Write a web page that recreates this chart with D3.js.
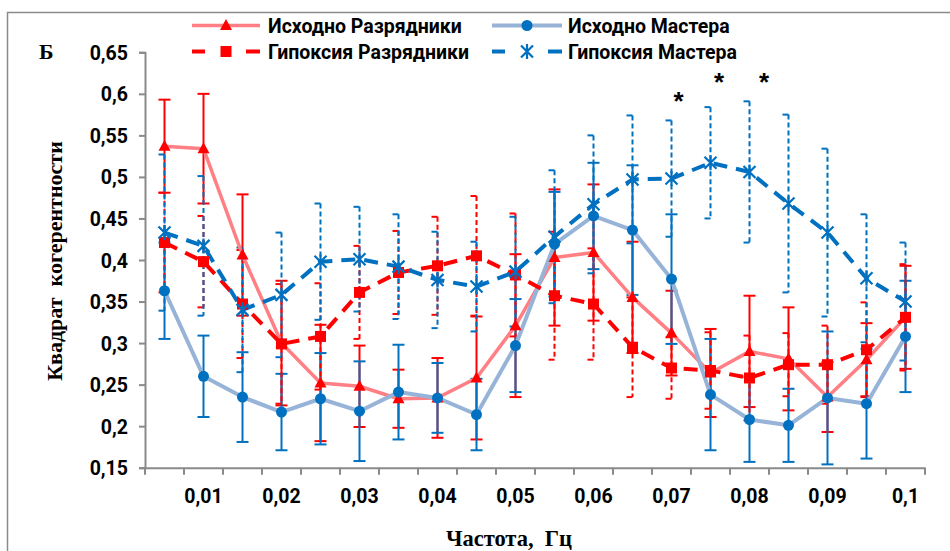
<!DOCTYPE html>
<html>
<head>
<meta charset="utf-8">
<script src="https://cdn.jsdelivr.net/npm/d3@7"></script>
<style>
  html, body { margin: 0; padding: 0; background: #fff; }
  svg { display: block; }
</style>
</head>
<body>
<svg id="chart" width="950" height="551"></svg>
<script>
// Frequency bins, Hz
const categories = [0.005, 0.01, 0.015, 0.02, 0.025, 0.03, 0.035, 0.04, 0.045, 0.05,
                    0.055, 0.06, 0.065, 0.07, 0.075, 0.08, 0.085, 0.09, 0.095, 0.1];
const xTickLabels = ["", "0,01", "", "0,02", "", "0,03", "", "0,04", "", "0,05",
                     "", "0,06", "", "0,07", "", "0,08", "", "0,09", "", "0,1"];
const yTicks = [0.15, 0.2, 0.25, 0.3, 0.35, 0.4, 0.45, 0.5, 0.55, 0.6, 0.65];
const yTickLabels = ["0,15", "0,2", "0,25", "0,3", "0,35", "0,4", "0,45", "0,5", "0,55", "0,6", "0,65"];

// Squared coherence, mean and error
const baseRanked = [0.537, 0.534, 0.406, 0.300, 0.252, 0.248, 0.233, 0.234, 0.258, 0.321,
                    0.403, 0.409, 0.355, 0.312, 0.264, 0.290, 0.281, 0.235, 0.280, 0.331];
const baseRankedErr = [0.056, 0.066, 0.073, 0.075, 0.070, 0.049, 0.035, 0.048, 0.074, 0.086,
                       0.082, 0.082, 0.067, 0.051, 0.053, 0.067, 0.062, 0.042, 0.044, 0.062];

const baseMasters = [0.363, 0.260, 0.235, 0.217, 0.233, 0.218, 0.241, 0.234, 0.214, 0.297,
                     0.419, 0.453, 0.436, 0.377, 0.238, 0.208, 0.201, 0.234, 0.227, 0.308];
const baseMastersErr = [0.058, 0.049, 0.054, 0.046, 0.055, 0.060, 0.057, 0.042, 0.043, 0.056,
                        0.063, 0.064, 0.078, 0.078, 0.067, 0.051, 0.044, 0.080, 0.066, 0.067];

const hypoxRanked = [0.421, 0.398, 0.347, 0.299, 0.308, 0.361, 0.385, 0.393, 0.405, 0.382,
                     0.357, 0.347, 0.295, 0.270, 0.267, 0.258, 0.274, 0.274, 0.292, 0.331];
const hypoxRankedErr = [0.060, 0.055, 0.065, 0.072, 0.064, 0.056, 0.050, 0.059, 0.072, 0.074,
                        0.077, 0.067, 0.060, 0.037, 0.046, 0.051, 0.038, 0.047, 0.057, 0.064];

const hypoxMasters = [0.433, 0.417, 0.340, 0.358, 0.398, 0.401, 0.392, 0.376, 0.368, 0.386,
                      0.428, 0.467, 0.497, 0.498, 0.517, 0.506, 0.468, 0.433, 0.378, 0.350];
const hypoxMastersErr = [0.094, 0.084, 0.075, 0.075, 0.070, 0.063, 0.063, 0.058, 0.054, 0.066,
                         0.080, 0.083, 0.077, 0.070, 0.067, 0.085, 0.107, 0.101, 0.077, 0.071];

// Significance marks: category and label height
const sigCategories = [0.07, 0.075, 0.08];
const sigLevels = [0.596, 0.619, 0.619];

const seriesNames = ["Исходно Разрядники", "Исходно Мастера", "Гипоксия Разрядники", "Гипоксия Мастера"];

const series = [
  { name: seriesNames[0], values: baseRanked, errors: baseRankedErr,
    line: "#FF7F84", lineWidth: 3.5, lineDash: null,
    mark: "#FF0000", marker: "triangle", errColor: "#FF0000", errDash: null },
  { name: seriesNames[1], values: baseMasters, errors: baseMastersErr,
    line: "#97B4D8", lineWidth: 4, lineDash: null,
    mark: "#0070C0", marker: "circle", errColor: "#0070C0", errDash: null },
  { name: seriesNames[2], values: hypoxRanked, errors: hypoxRankedErr,
    line: "#FF0000", lineWidth: 4, lineDash: "14,9",
    mark: "#FF0000", marker: "square", errColor: "#FF0000", errDash: "5,3" },
  { name: seriesNames[3], values: hypoxMasters, errors: hypoxMastersErr,
    line: "#0070C0", lineWidth: 4, lineDash: "14,9",
    mark: "#0070C0", marker: "star", errColor: "#0070C0", errDash: "5,3" }
];

const svg = d3.select("#chart");
const SANS = "Roboto, 'Open Sans', sans-serif";
const SERIF = "'Liberation Serif', 'DejaVu Serif', serif";
const AXIS = "#8a8a8a";
const LABEL_SIZE = 19.5;

// Outer frame
svg.append("rect")
  .attr("x", 7.5).attr("y", 12.5).attr("width", 1000).attr("height", 600)
  .attr("fill", "none").attr("stroke", AXIS).attr("stroke-width", 1.5);

const plot = { left: 145, right: 925, top: 52.3, bottom: 467.7 };

const x = d3.scaleBand().domain(categories).range([plot.left, plot.right]).padding(0);
const y = d3.scaleLinear().domain([0.15, 0.65]).range([plot.bottom, plot.top]);
const cx = c => x(c) + x.bandwidth() / 2;

// Y axis
const yAxis = d3.axisLeft(y).tickValues(yTicks)
  .tickFormat((d, i) => yTickLabels[i]).tickSize(6).tickPadding(11);
const gy = svg.append("g").attr("transform", `translate(${plot.left},0)`).call(yAxis);
gy.select(".domain").attr("stroke", AXIS).attr("stroke-width", 2);
gy.selectAll(".tick line").attr("stroke", AXIS).attr("stroke-width", 2);
gy.selectAll(".tick text").attr("font-family", SANS).attr("font-weight", "bold")
  .attr("font-size", LABEL_SIZE).attr("fill", "#000").attr("dy", "0.36em");

// X axis: labels at category centres, tick marks on category boundaries
const xAxis = d3.axisBottom(x).tickFormat((d, i) => xTickLabels[i]).tickSize(0).tickPadding(21);
const gx = svg.append("g").attr("transform", `translate(0,${plot.bottom})`).call(xAxis);
gx.select(".domain").attr("stroke", AXIS).attr("stroke-width", 2);
gx.selectAll(".tick text").attr("font-family", SANS).attr("font-weight", "bold")
  .attr("font-size", LABEL_SIZE).attr("fill", "#000");
const boundaries = categories.map(c => x(c)).concat([x.range()[1]]);
gx.selectAll(".bnd").data(boundaries).enter().append("line")
  .attr("class", "bnd")
  .attr("x1", d => d).attr("x2", d => d).attr("y1", 0).attr("y2", 7)
  .attr("stroke", AXIS).attr("stroke-width", 2);

// Error bars
const capHalf = 6;
series.forEach(s => {
  const g = svg.append("g");
  categories.forEach((c, i) => {
    const v = s.values[i], e = s.errors[i];
    const px = cx(c), y1 = y(v + e), y2 = y(v - e);
    g.append("line").attr("x1", px).attr("x2", px).attr("y1", y1).attr("y2", y2)
      .attr("stroke", s.errColor).attr("stroke-width", 2)
      .attr("stroke-dasharray", s.errDash);
    [y1, y2].forEach(yy => {
      g.append("line").attr("x1", px - capHalf).attr("x2", px + capHalf)
        .attr("y1", yy).attr("y2", yy)
        .attr("stroke", s.errColor).attr("stroke-width", 2)
        .attr("stroke-dasharray", s.errDash ? "6,7" : null);
    });
  });
});

// Series lines
const lineGen = d3.line().x((d, i) => cx(categories[i])).y(d => y(d));
series.forEach(s => {
  svg.append("path").datum(s.values)
    .attr("d", lineGen)
    .attr("fill", "none").attr("stroke", s.line).attr("stroke-width", s.lineWidth)
    .attr("stroke-dasharray", s.lineDash).attr("stroke-linejoin", "round");
});

// Markers
function drawMarker(g, type, px, py, color) {
  if (type === "triangle") {
    g.append("path").attr("d", `M${px},${py - 6.5}L${px + 6},${py + 4.5}L${px - 6},${py + 4.5}Z`)
      .attr("fill", color);
  } else if (type === "circle") {
    g.append("circle").attr("cx", px).attr("cy", py).attr("r", 5.5).attr("fill", color);
  } else if (type === "square") {
    g.append("rect").attr("x", px - 5.5).attr("y", py - 5.5).attr("width", 11).attr("height", 11)
      .attr("fill", color);
  } else if (type === "star") {
    g.append("path")
      .attr("d", `M${px - 6},${py - 6}L${px + 6},${py + 6}M${px - 6},${py + 6}L${px + 6},${py - 6}M${px},${py - 7.5}L${px},${py + 7.5}`)
      .attr("stroke", color).attr("stroke-width", 2.2).attr("fill", "none");
  }
}
series.forEach(s => {
  const g = svg.append("g");
  categories.forEach((c, i) => drawMarker(g, s.marker, cx(c), y(s.values[i]), s.mark));
});

// Significance asterisks
const sigOffsets = [7, 8.5, 14.5];
svg.selectAll(".sig").data(sigCategories).enter().append("text")
  .attr("class", "sig")
  .attr("x", (d, i) => cx(d) + sigOffsets[i])
  .attr("y", (d, i) => y(sigLevels[i]) + 13)
  .attr("text-anchor", "middle")
  .attr("font-family", "'Liberation Sans', Arial, sans-serif").attr("font-weight", "bold")
  .attr("font-size", 26).attr("fill", "#000")
  .text("*");

// Legend
const legendCols = [{ x0: 192, x1: 260, tx: 268 }, { x0: 492, x1: 562, tx: 568 }];
const legendRows = [25.5, 51.5];
series.forEach((s, k) => {
  const col = legendCols[k % 2], ly = legendRows[Math.floor(k / 2)];
  const g = svg.append("g");
  const mid = (col.x0 + col.x1) / 2;
  if (s.lineDash) {
    [[col.x0, col.x0 + 13], [col.x1 - 14, col.x1]].forEach(seg => {
      g.append("line").attr("x1", seg[0]).attr("x2", seg[1]).attr("y1", ly).attr("y2", ly)
        .attr("stroke", s.line).attr("stroke-width", s.lineWidth);
    });
  } else {
    g.append("line").attr("x1", col.x0).attr("x2", col.x1).attr("y1", ly).attr("y2", ly)
      .attr("stroke", s.line).attr("stroke-width", s.lineWidth);
  }
  drawMarker(g, s.marker, mid, ly, s.mark);
  g.append("text").attr("x", col.tx).attr("y", ly + 7)
    .attr("font-family", SANS).attr("font-weight", "bold").attr("font-size", LABEL_SIZE)
    .attr("fill", "#000").text(s.name);
});

// Panel letter and axis titles
svg.append("text").attr("x", 39).attr("y", 59)
  .attr("font-family", SERIF).attr("font-weight", "bold").attr("font-size", 22)
  .attr("fill", "#000").text("Б");

svg.append("text")
  .attr("transform", `translate(62,${(plot.top + plot.bottom) / 2 + 1}) rotate(-90)`)
  .attr("text-anchor", "middle")
  .attr("font-family", SERIF).attr("font-weight", "bold").attr("font-size", 22)
  .attr("fill", "#000").attr("xml:space", "preserve")
  .text("Квадрат  когерентности");

svg.append("text").attr("x", 509).attr("y", 546)
  .attr("text-anchor", "middle")
  .attr("font-family", SERIF).attr("font-weight", "bold").attr("font-size", 22.5)
  .attr("fill", "#000").attr("xml:space", "preserve")
  .text("Частота,  Гц");
</script>
</body>
</html>
